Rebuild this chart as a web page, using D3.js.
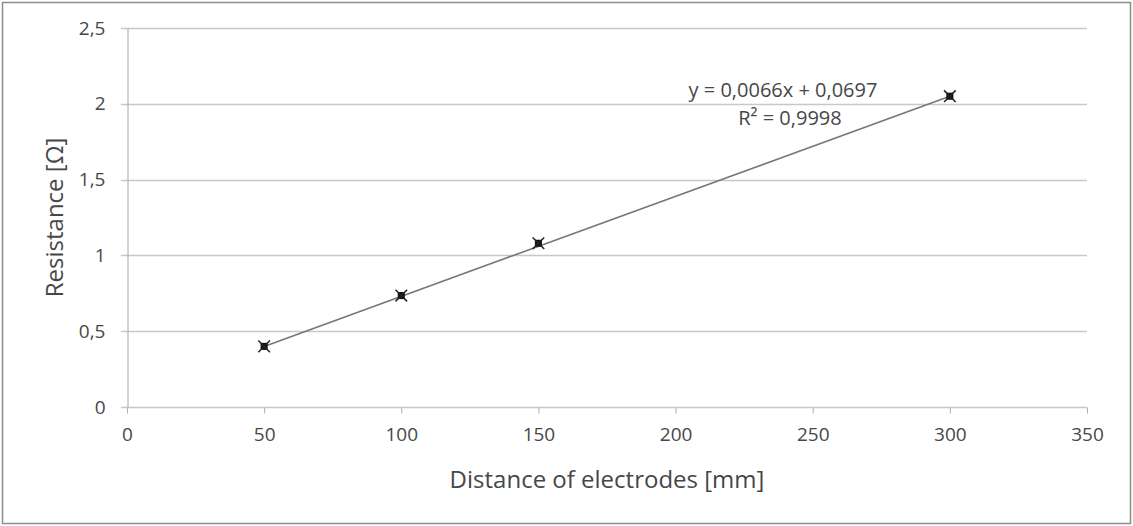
<!DOCTYPE html>
<html>
<head>
<meta charset="utf-8">
<script src="https://cdn.jsdelivr.net/npm/d3@7"></script>
<style>
  body { margin: 0; background: #fff; }
  text { font-family: "Open Sans", "DejaVu Sans", sans-serif; fill: #474747; }
</style>
</head>
<body>
<div id="chart"></div>
<script>
// data
const distances = [50, 100, 150, 300];
const resistances = [0.40, 0.735, 1.08, 2.05];
const slope = 0.0066;
const intercept = 0.0697;
const xTicks = [0, 50, 100, 150, 200, 250, 300, 350];
const yTicks = [0, 0.5, 1, 1.5, 2, 2.5];
const eqLabel = 'y = 0,0066x + 0,0697';
const r2Label = 'R² = 0,9998';

const width = 1133, height = 526;
const margin = {top: 28, right: 46, bottom: 119, left: 127};

const svg = d3.select('#chart').append('svg')
  .attr('width', width).attr('height', height);

// outer frame
svg.append('rect')
  .attr('x', 2.5).attr('y', 2.5)
  .attr('width', width - 5).attr('height', height - 5)
  .attr('fill', 'none').attr('stroke', '#8c8c8c').attr('stroke-width', 1.5);

const x = d3.scaleLinear().domain([0, 350]).range([margin.left, width - margin.right]);
const y = d3.scaleLinear().domain([0, 2.5]).range([height - margin.bottom, margin.top]);

const fmt = d => String(d).replace('.', ',');

// gridlines
svg.append('g').selectAll('line')
  .data(yTicks)
  .join('line')
  .attr('x1', x(0) - 6).attr('x2', x(350))
  .attr('y1', d => Math.round(y(d)) + 0.5).attr('y2', d => Math.round(y(d)) + 0.5)
  .attr('stroke', '#c8c8c8').attr('stroke-width', 1.5);

// y axis
const yAxis = svg.append('g')
  .attr('transform', `translate(${x(0) + 0.5},0)`)
  .call(d3.axisLeft(y).tickValues(yTicks).tickFormat(fmt).tickSize(0).tickPadding(22));
yAxis.select('.domain').attr('stroke', '#a6a6a6');
yAxis.selectAll('text').style('font-size', '19px').attr('fill', '#474747');

// x axis
const xAxis = svg.append('g')
  .attr('transform', `translate(0,${Math.round(y(0)) + 0.5})`)
  .call(d3.axisBottom(x).tickValues(xTicks).tickFormat(fmt).tickSize(6).tickPadding(14));
xAxis.select('.domain').remove();
xAxis.selectAll('line').attr('stroke', '#b0b0b0');
xAxis.selectAll('text').style('font-size', '19px').attr('fill', '#474747');

// trendline
const trendX = d3.extent(distances);
svg.append('line')
  .attr('x1', x(trendX[0])).attr('y1', y(slope * trendX[0] + intercept))
  .attr('x2', x(trendX[1])).attr('y2', y(slope * trendX[1] + intercept))
  .attr('stroke', '#777').attr('stroke-width', 1.6);

// markers
const pts = distances.map((d, i) => ({d, r: resistances[i]}));
svg.append('g').selectAll('path')
  .data(pts)
  .join('path')
  .attr('transform', p => `translate(${x(p.d)},${y(p.r)})`)
  .attr('d', d3.symbol(d3.symbolSquare, 50))
  .attr('fill', '#111');
svg.append('g').selectAll('path')
  .data(pts)
  .join('path')
  .attr('transform', p => `translate(${x(p.d)},${y(p.r)})`)
  .attr('d', d3.symbol(d3.symbolX, 90))
  .attr('stroke', '#222').attr('stroke-width', 1.5);

// equation
svg.append('text')
  .attr('x', 783).attr('y', 97)
  .attr('text-anchor', 'middle')
  .style('font-size', '20px')
  .text(eqLabel);
svg.append('text')
  .attr('x', 790).attr('y', 125)
  .attr('text-anchor', 'middle')
  .style('font-size', '20px')
  .text(r2Label);

// axis titles
svg.append('text')
  .attr('x', (x(0) + x(350)) / 2).attr('y', 488)
  .attr('text-anchor', 'middle')
  .style('font-size', '24px')
  .text('Distance of electrodes [mm]');
svg.append('text')
  .attr('transform', `translate(63,${(y(0) + y(2.5)) / 2}) rotate(-90)`)
  .attr('text-anchor', 'middle')
  .style('font-size', '24px')
  .text('Resistance [Ω]');
</script>
</body>
</html>
